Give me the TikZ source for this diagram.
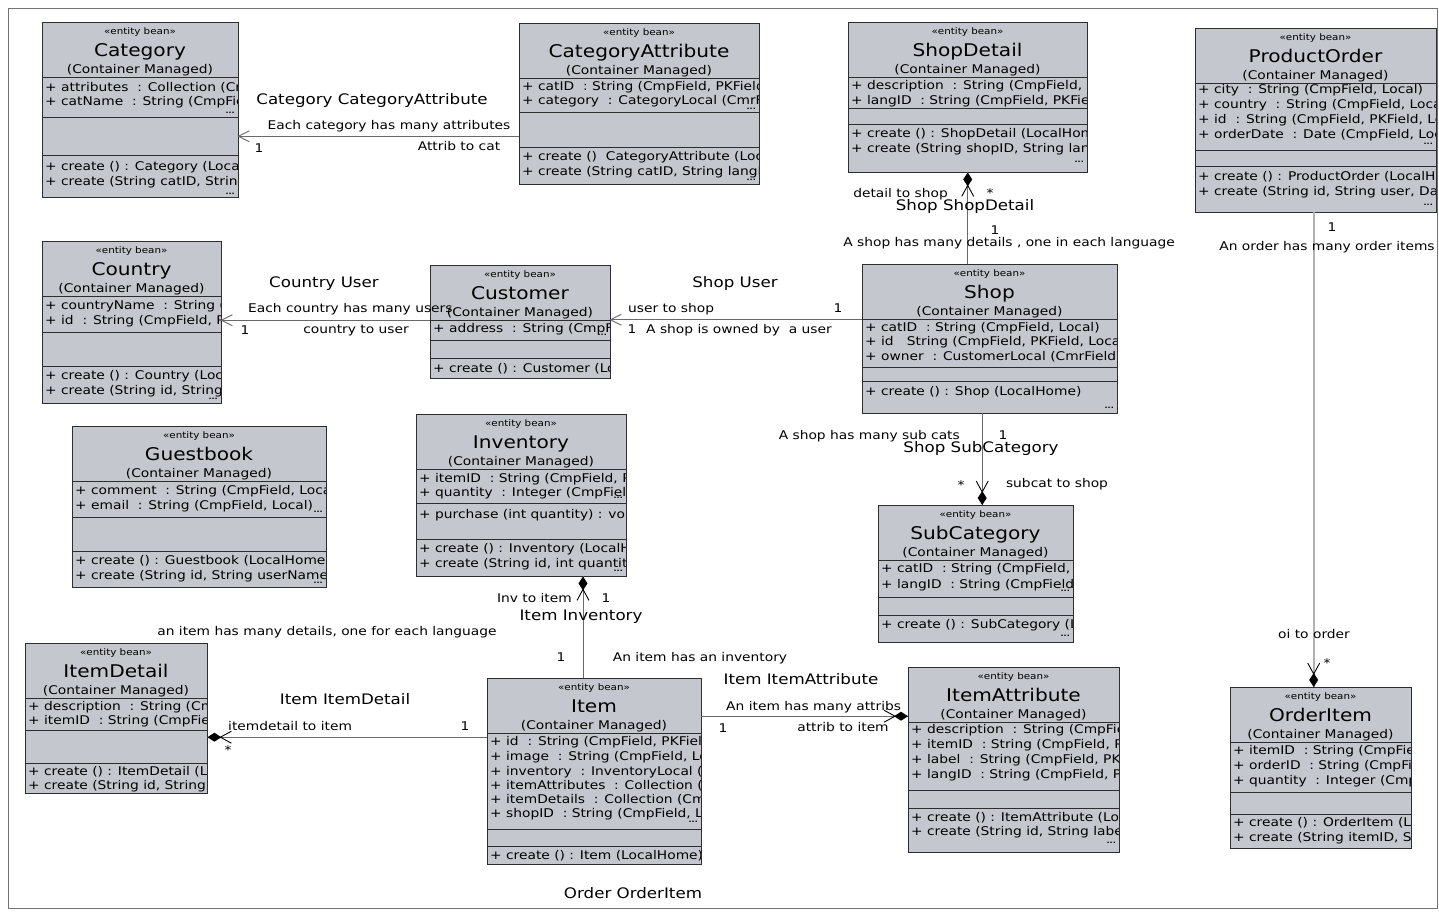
\documentclass[tikz,border=0pt]{standalone}
\usepackage{fontspec}
\setmainfont{DejaVu Sans}[FakeStretch=1.15]
\usetikzlibrary{calc}

\definecolor{boxfill}{RGB}{196,199,205}
\definecolor{boxline}{RGB}{45,45,45}
\definecolor{connline}{RGB}{105,105,105}

\newcounter{txt}
\tikzset{
  autoname/.style={/utils/exec={\stepcounter{txt}}, name=txt\arabic{txt}},
  entitybox/.style={fill=boxfill, draw=none, inner sep=0pt, anchor=north west},
  boxborder/.style={draw=boxline, line width=1pt},
  sepline/.style={draw=boxline, line width=0.8pt},
  stereo/.style={font=\fontsize{9}{10}\selectfont, anchor=base, inner sep=0pt, autoname},
  cname/.style={font=\fontsize{17.5}{20}\selectfont, anchor=base, inner sep=0pt, autoname},
  cmanaged/.style={font=\fontsize{12}{14}\selectfont, anchor=base, inner sep=0pt, autoname},
  row/.style={font=\fontsize{12}{14}\selectfont, anchor=base west, inner sep=0pt, autoname},
  more/.style={font=\fontsize{7}{8}\selectfont\bfseries, anchor=base east, inner sep=0pt, autoname},
  conn/.style={draw=connline, line width=0.9pt},
  orderline/.style={draw=black!30, line width=2.2pt},
  framel/.style={draw=black!55, line width=0.8pt},
  lbl/.style={font=\fontsize{12}{14}\selectfont, anchor=base, inner sep=0pt},
  aname/.style={font=\fontsize{14.5}{17}\selectfont, anchor=base, inner sep=0pt},
  % composition end: filled diamond at the box, open barb behind it
  comp/.pic={
    \fill[black] (0,0) -- (7,4.5) -- (14,0) -- (7,-4.5) -- cycle;
    \draw[black, line width=0.9pt] (24,6) -- (13,0) -- (24,-6);
  },
  % plain navigable end: open barb
  nav/.pic={
    \draw[connline, line width=0.9pt] (11,5.5) -- (0,0) -- (11,-5.5);
  }
}

% header of an entity bean box (width, class name)
\newcommand\entityhead[2]{%
  \node[stereo] at (#1/2,12.5) {«entity bean»};
  \node[cname] at (#1/2,34) {#2};
  \node[cmanaged] at (#1/2,51.5) {(Container Managed)};
  \draw[sepline] (0,55) -- (#1,55);}
\newcommand\rw[2]{\node[row] at (3,#1+4.5) {#2};}
\newcommand\sepat[1]{\draw[sepline] (0,#1) -- (\bw,#1);}
\newcommand\ellip[1]{\node[more] at (\bw-3,#1) {...};}
% id, x, y, width, height, class name, compartments
\newcommand\entity[7]{%
  \begin{scope}[shift={(#2,#3)}]
    \def\bw{#4}%
    \node[entitybox, minimum width=#4pt, minimum height=#5pt] (#1) at (0,0) {};
    \begin{scope}
      \clip (0,0) rectangle (#4,#5);
      \entityhead{#4}{#6}
      #7
    \end{scope}
    \draw[boxborder] (0,0) rectangle (#4,#5);
  \end{scope}}

\begin{document}
\begin{tikzpicture}[x=1pt, y=-1pt]
\useasboundingbox (0,0) rectangle (1439,911);
\fill[white] (0,0) rectangle (1439,911);
\draw[framel] (8,8) rectangle (1437,908);

% ---------------- entity beans ----------------
\entity{category}{42}{22}{196}{175}{Category}{%
  \rw{65}{+ attributes~~: Collection (CmrField, Local)}
  \rw{79}{+ catName~~: String (CmpField, PKField, Local)}
  \ellip{91}
  \sepat{95} \sepat{133}
  \rw{144}{+ create () : Category (LocalHome)}
  \rw{159}{+ create (String catID, String catName)}
  \ellip{172}}

\entity{categoryattribute}{519}{23}{240}{161}{CategoryAttribute}{%
  \rw{63}{+ catID~~: String (CmpField, PKField, Local)}
  \rw{77}{+ category~~: CategoryLocal (CmrField, Local)}
  \ellip{86}
  \sepat{89} \sepat{124}
  \rw{133}{+ create ()~~CategoryAttribute (LocalHome)}
  \rw{148}{+ create (String catID, String langID)}
  \ellip{157}}

\entity{shopdetail}{848}{22}{239}{150}{ShopDetail}{%
  \rw{63}{+ description~~: String (CmpField, Local)}
  \rw{78}{+ langID~~: String (CmpField, PKField, Local)}
  \sepat{86} \sepat{102}
  \rw{111}{+ create () : ShopDetail (LocalHome)}
  \rw{126}{+ create (String shopID, String langID)}
  \ellip{140}}

\entity{productorder}{1195}{28}{241}{184}{ProductOrder}{%
  \rw{61}{+ city~~: String (CmpField, Local)}
  \rw{76}{+ country~~: String (CmpField, Local)}
  \rw{91}{+ id~~: String (CmpField, PKField, Local)}
  \rw{106}{+ orderDate~~: Date (CmpField, Local)}
  \ellip{116}
  \sepat{122} \sepat{138}
  \rw{148}{+ create () : ProductOrder (LocalHome)}
  \rw{163}{+ create (String id, String user, Date orderDate)}
  \ellip{177}}

\entity{country}{42}{241}{179}{162}{Country}{%
  \rw{64}{+ countryName~~: String (CmpField, Local)}
  \rw{79}{+ id~~: String (CmpField, PKField, Local)}
  \sepat{91} \sepat{125}
  \rw{134}{+ create () : Country (LocalHome)}
  \rw{149}{+ create (String id, String countryName)}
  \ellip{158}}

\entity{customer}{430}{265}{180}{113}{Customer}{%
  \rw{63}{+ address~~: String (CmpField, Local)}
  \ellip{70}
  \sepat{75} \sepat{93}
  \rw{103}{+ create () : Customer (LocalHome)}}

\entity{shop}{862}{264}{255}{149}{Shop}{%
  \rw{63}{+ catID~~: String (CmpField, Local)}
  \rw{77}{+ id~~~String (CmpField, PKField, Local)}
  \rw{92}{+ owner~~: CustomerLocal (CmrField, Local)}
  \sepat{103} \sepat{117}
  \rw{127}{+ create () : Shop (LocalHome)}
  \ellip{144}}

\entity{guestbook}{72}{426}{254}{161}{Guestbook}{%
  \rw{64}{+ comment~~: String (CmpField, Local)}
  \rw{79}{+ email~~: String (CmpField, Local)}
  \ellip{86}
  \sepat{91} \sepat{125}
  \rw{134}{+ create () : Guestbook (LocalHome)}
  \rw{149}{+ create (String id, String userName, String comment)}
  \ellip{157}}

\entity{inventory}{416}{414}{210}{162}{Inventory}{%
  \rw{64}{+ itemID~~: String (CmpField, PKField, Local)}
  \rw{78}{+ quantity~~: Integer (CmpField, Local)}
  \ellip{84}
  \sepat{89}
  \rw{100}{+ purchase (int quantity) : void}
  \sepat{125}
  \rw{134}{+ create () : Inventory (LocalHome)}
  \rw{149}{+ create (String id, int quantity)}
  \ellip{157}}

\entity{subcategory}{878}{505}{195}{137}{SubCategory}{%
  \rw{63}{+ catID~~: String (CmpField, PKField, Local)}
  \rw{79}{+ langID~~: String (CmpField, PKField, Local)}
  \ellip{86}
  \sepat{92} \sepat{110}
  \rw{119}{+ create () : SubCategory (LocalHome)}
  \ellip{131}}

\entity{itemdetail}{25}{643}{182}{150}{ItemDetail}{%
  \rw{63}{+ description~~: String (CmpField, Local)}
  \rw{77}{+ itemID~~: String (CmpField, PKField, Local)}
  \sepat{87} \sepat{120}
  \rw{128}{+ create () : ItemDetail (LocalHome)}
  \rw{142}{+ create (String id, String langID)}}

\entity{item}{487}{678}{214}{186}{Item}{%
  \rw{63}{+ id~~: String (CmpField, PKField, Local)}
  \rw{78}{+ image~~: String (CmpField, Local)}
  \rw{93}{+ inventory~~: InventoryLocal (CmrField, Local)}
  \rw{107}{+ itemAttributes~~: Collection (CmrField, Local)}
  \rw{121}{+ itemDetails~~: Collection (CmrField, Local)}
  \rw{135}{+ shopID~~: String (CmpField, Local)}
  \ellip{144}
  \sepat{151} \sepat{168}
  \rw{177}{+ create () : Item (LocalHome)}}

\entity{itemattribute}{908}{667}{211}{185}{ItemAttribute}{%
  \rw{62}{+ description~~: String (CmpField, Local)}
  \rw{77}{+ itemID~~: String (CmpField, PKField, Local)}
  \rw{92}{+ label~~: String (CmpField, PKField, Local)}
  \rw{107}{+ langID~~: String (CmpField, PKField, Local)}
  \sepat{123} \sepat{141}
  \rw{150}{+ create () : ItemAttribute (LocalHome)}
  \rw{164}{+ create (String id, String label, String langID)}
  \ellip{176}}

\entity{orderitem}{1230}{687}{181}{161}{OrderItem}{%
  \rw{63}{+ itemID~~: String (CmpField, PKField, Local)}
  \rw{78}{+ orderID~~: String (CmpField, PKField, Local)}
  \rw{93}{+ quantity~~: Integer (CmpField, Local)}
  \sepat{105} \sepat{127}
  \rw{135}{+ create () : OrderItem (LocalHome)}
  \rw{150}{+ create (String itemID, String orderID)}}

% ---------------- relationships ----------------
% Category - CategoryAttribute
\coordinate (ca) at ([yshift=-32.5pt]categoryattribute.west);
\draw[conn] (ca) -- (ca -| category.east);
\pic at (ca -| category.east) {nav};

% Country - Customer
\coordinate (cu) at ([yshift=1.5pt]customer.west);
\draw[conn] (cu) -- (cu -| country.east);
\pic at (cu -| country.east) {nav};

% Shop - Customer
\coordinate (cs) at ([yshift=2pt]customer.east);
\draw[conn] (cs -| shop.west) -- (cs);
\pic at (cs) {nav};

% Shop - ShopDetail
\draw[conn] (shopdetail.south) -- (shopdetail.south |- shop.north);
\pic[rotate=-90] at (shopdetail.south) {comp};

% Shop - SubCategory
\coordinate (ss) at ([xshift=6.5pt]subcategory.north);
\draw[conn] (ss |- shop.south) -- (ss);
\pic[rotate=90] at (ss) {comp};

% ProductOrder - OrderItem
\coordinate (po) at ([xshift=-2pt]productorder.south);
\draw[orderline] (po) -- (po |- orderitem.north);
\pic[rotate=90] at (po |- orderitem.north) {comp};

% Inventory - Item
\coordinate (ii) at ([xshift=96pt]item.north west);
\draw[conn] (ii |- inventory.south) -- (ii);
\pic[rotate=-90] at (ii |- inventory.south) {comp};

% Item - ItemDetail
\coordinate (idt) at ([yshift=34pt]item.west);
\draw[conn] (idt) -- (idt -| itemdetail.east);
\pic at (idt -| itemdetail.east) {comp};

% Item - ItemAttribute
\coordinate (iat) at ([yshift=55pt]item.east);
\draw[conn] (iat) -- (iat -| itemattribute.west);
\pic[rotate=180] at (iat -| itemattribute.west) {comp};

% ---------------- labels ----------------
\node[aname] (l1) at (372,104) {Category CategoryAttribute};
\node[lbl] (l2) at (389,129) {Each category has many attributes};
\node[lbl] (l3) at (259,152) {1};
\node[lbl] (l4) at (459,150) {Attrib to cat};

\node[aname] (l5) at (324,287) {Country User};
\node[lbl, anchor=base west] (l6) at (248,312) {Each country has many users};
\node[lbl] (l7) at (245,334) {1};
\node[lbl] (l8) at (356,333) {country to user};

\node[aname] (l9) at (735,287) {Shop User};
\node[lbl, anchor=base west] (l10) at (628,312) {user to shop};
\node[lbl] (l11) at (838,312) {1};
\node[lbl] (l12) at (632,333) {1};
\node[lbl, anchor=base west] (l13) at (646,333) {A shop is owned by~~a user};

\node[lbl, anchor=base east] (l14) at (948,197) {detail to shop};
\node[lbl] (l15) at (990,197) {*};
\node[aname] (l16) at (965,210) {Shop ShopDetail};
\node[lbl] (l17) at (995,234) {1};
\node[lbl] (l18) at (1009,246) {A shop has many details , one in each language};

\node[lbl] (l19) at (1332,231) {1};
\node[lbl] (l20) at (1327,250) {An order has many order items};
\node[lbl] (l21) at (1314,638) {oi to order};
\node[lbl] (l22) at (1327,667) {*};

\node[lbl, anchor=base east] (l23) at (960,439) {A shop has many sub cats};
\node[lbl] (l24) at (1003,439) {1};
\node[aname] (l25) at (981,452) {Shop SubCategory};
\node[lbl] (l26) at (961,489) {*};
\node[lbl] (l27) at (1057,487) {subcat to shop};

\node[lbl, anchor=base east] (l28) at (572,602) {Inv to item};
\node[lbl] (l29) at (606,602) {1};
\node[aname] (l30) at (581,620) {Item Inventory};
\node[lbl] (l31) at (561,661) {1};
\node[lbl] (l32) at (700,661) {An item has an inventory};

\node[lbl] (l33) at (327,635) {an item has many details, one for each language};
\node[aname] (l34) at (345,704) {Item ItemDetail};
\node[lbl, anchor=base west] (l35) at (228,730) {itemdetail to item};
\node[lbl] (l36) at (465,730) {1};
\node[lbl] (l37) at (228,754) {*};

\node[aname] (l38) at (801,684) {Item ItemAttribute};
\node[lbl, anchor=base west] (l39) at (726,710) {An item has many attribs};
\node[lbl] (l40) at (723,732) {1};
\node[lbl] (l41) at (843,731) {attrib to item};

\node[aname] (l42) at (633,898) {Order OrderItem};
\end{tikzpicture}
\end{document}
